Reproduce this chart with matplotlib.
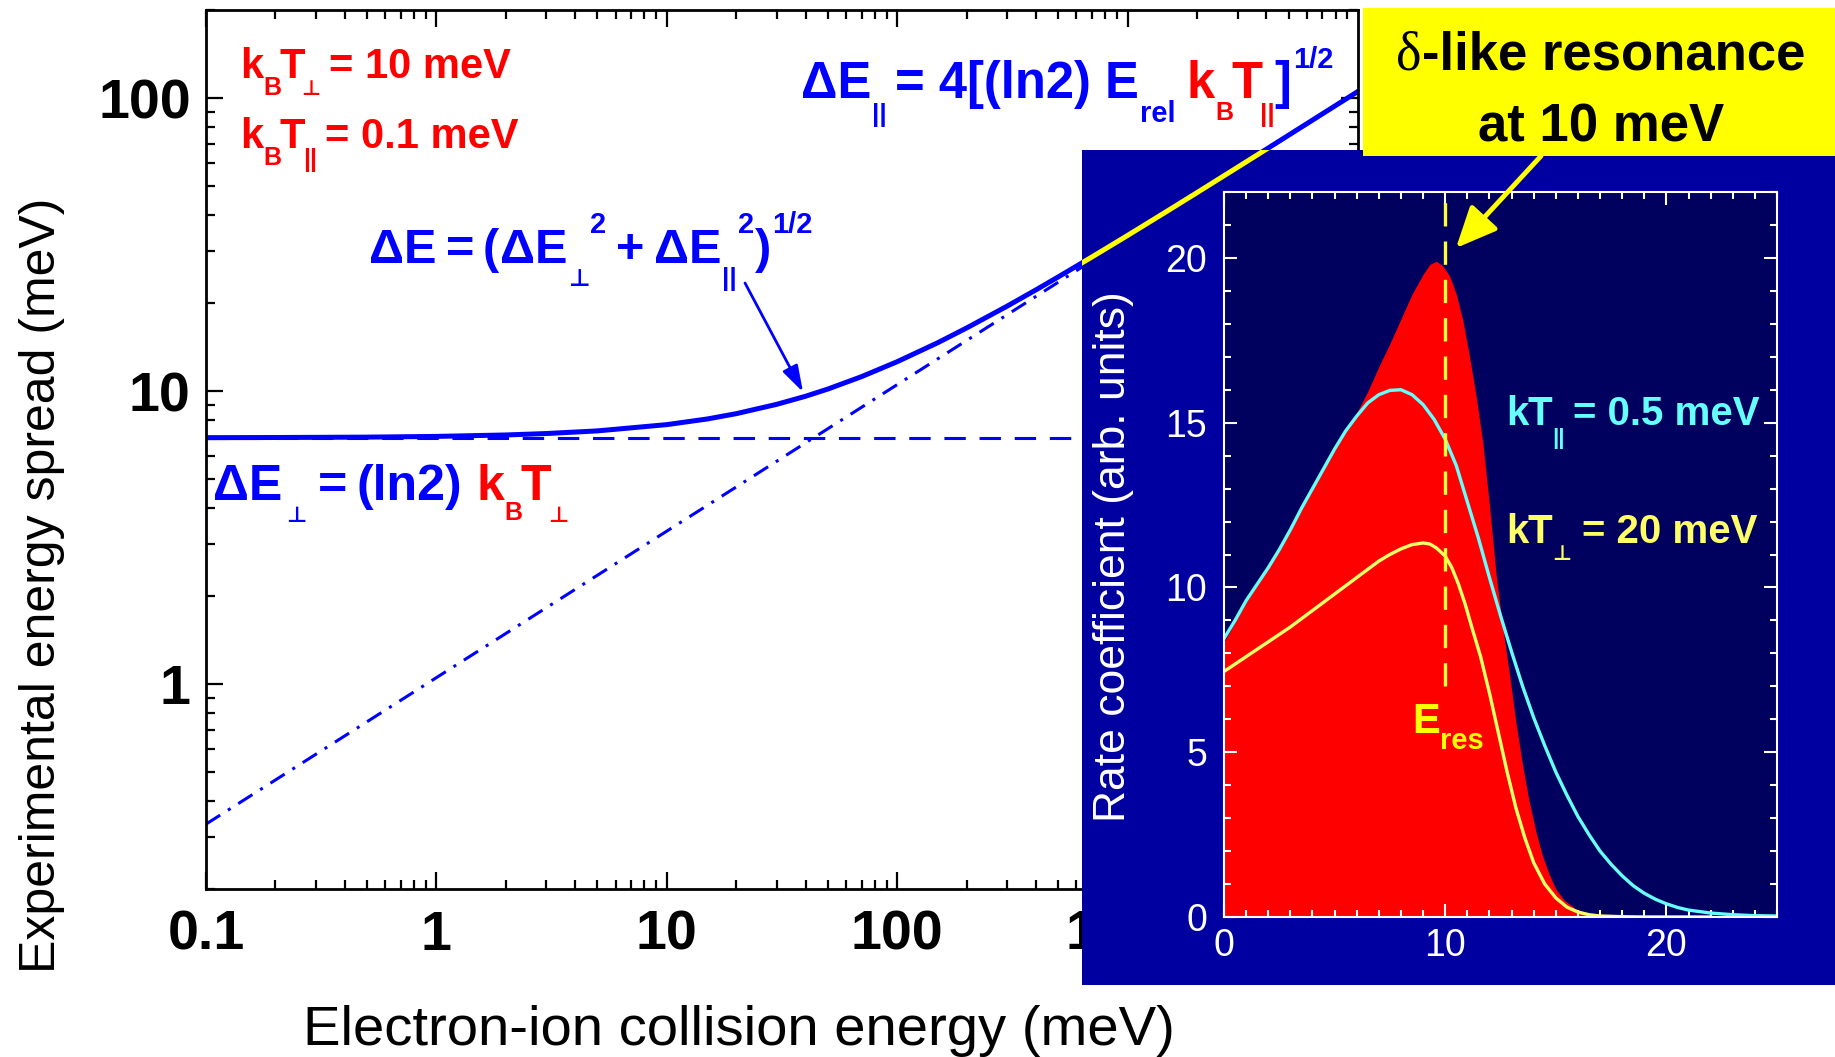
import numpy as np
import matplotlib
matplotlib.use("Agg")
import matplotlib.pyplot as plt
from matplotlib.patches import Rectangle, FancyArrowPatch
from matplotlib.ticker import LogLocator, NullFormatter, MultipleLocator

# ---------------- data ----------------
# main panel: energy spread vs collision energy (meV)
E_tot = [0.1, 0.2, 0.5, 1, 2, 3, 5, 10, 15, 20, 30, 40, 50, 70, 100, 150, 200,
         300, 400, 500, 700, 1000, 1500, 2000, 3000, 4000, 5000, 7000, 10000]
dE_tot = [6.94, 6.95, 6.97, 7.01, 7.09, 7.17, 7.32, 7.69, 8.04, 8.38, 9.02,
          9.61, 10.17, 11.21, 12.61, 14.64, 16.43, 19.51, 22.17, 24.55, 28.71,
          34.01, 41.37, 47.60, 58.10, 66.96, 74.79, 88.38, 105.5]
E_perp = [0.1, 10000]
dE_perp = [6.93, 6.93]
E_par = [0.1, 10000]
dE_par = [0.333, 105.3]
x_ticks_main = [0.1, 1, 10, 100, 1000]
x_ticklabels_main = ["0.1", "1", "10", "100", "1000"]
y_ticks_main = [1, 10, 100]
y_ticklabels_main = ["1", "10", "100"]

# inset: rate coefficient vs energy
x_red = [0, 1, 2, 3, 4, 5, 6, 6.5, 7, 7.5, 8, 8.5, 9, 9.3, 9.6, 9.9, 10.2,
         10.5, 10.8, 11.1, 11.4, 11.7, 12.0, 12.3, 12.6, 12.9, 13.2, 13.5,
         13.8, 14.1, 14.4, 14.7, 15.0, 15.4, 15.9, 16.5, 17.0, 18.0]
y_red = [8.35, 9.55, 10.6, 11.75, 13.0, 14.2, 15.3, 15.95, 16.7, 17.4, 18.15,
         18.9, 19.5, 19.8, 19.9, 19.75, 19.45, 18.9, 18.1, 17.0, 15.8, 14.4,
         12.5, 10.4, 8.8, 7.4, 5.9, 4.6, 3.5, 2.6, 1.85, 1.3, 0.85, 0.5, 0.25,
         0.1, 0.04, 0.0]
x_cyan = [0, 0.5, 1, 1.5, 2, 2.5, 3, 3.5, 4, 4.5, 5, 5.5, 6, 6.5, 7, 7.5, 8,
          8.5, 9, 9.5, 10, 10.5, 11, 11.5, 12, 12.5, 13, 13.5, 14, 14.5, 15,
          15.5, 16, 16.5, 17, 17.5, 18, 18.5, 19, 19.5, 20, 20.5, 21, 22, 23,
          24, 25]
y_cyan = [8.45, 9.0, 9.6, 10.1, 10.6, 11.15, 11.75, 12.4, 13.0, 13.6, 14.2,
          14.75, 15.2, 15.6, 15.85, 15.98, 16.0, 15.85, 15.55, 15.1, 14.5, 13.7,
          12.6, 11.5, 10.3, 9.15, 8.05, 7.0, 6.05, 5.2, 4.4, 3.7, 3.05, 2.5,
          2.0, 1.6, 1.25, 0.95, 0.72, 0.54, 0.4, 0.29, 0.21, 0.12, 0.07, 0.04,
          0.03]
x_yel = [0, 1, 2, 3, 4, 5, 6, 6.5, 7, 7.5, 8, 8.5, 9, 9.3, 9.6, 10.0, 10.3,
         10.6, 10.9, 11.2, 11.6, 12.0, 12.4, 12.8, 13.2, 13.6, 14.0, 14.5,
         15.0, 15.5, 16.0, 16.5, 17.0, 18.0, 19.0, 22.0]
y_yel = [7.45, 7.9, 8.35, 8.8, 9.3, 9.8, 10.3, 10.55, 10.8, 11.0, 11.17, 11.3,
         11.35, 11.32, 11.2, 10.95, 10.6, 10.1, 9.5, 8.8, 7.9, 6.8, 5.6, 4.4,
         3.3, 2.4, 1.65, 1.0, 0.58, 0.3, 0.15, 0.07, 0.03, 0.01, 0.0, 0.0]
E_res = 10
E_res_line_y = [7.0, 22]
x_ticks_in = [0, 10, 20]
y_ticks_in = [0, 5, 10, 15, 20]

# ---------------- figure ----------------
W, H = 1835, 1057
fig = plt.figure(figsize=(W / 100, H / 100), dpi=100)
fig.patch.set_facecolor("white")

SANS = ["Liberation Sans", "DejaVu Sans"]
plt.rcParams["font.family"] = SANS


def fx(x):
    return x / W


def fy(y):
    return 1 - y / H


BLUE = "#0000FF"
RED = "#FF0000"

# main axes
ax = fig.add_axes([fx(206), fy(889), (1358 - 206) / W, (889 - 10) / H], zorder=0)
ax.set_xscale("log")
ax.set_yscale("log")
ax.set_xlim(0.1, 1e4)
ax.set_ylim(0.2, 200)
ax.plot(E_par, dE_par, color=BLUE, lw=2.2, dashes=(5.5, 3, 1, 3))
ax.plot(E_perp, dE_perp, color=BLUE, lw=2.2, dashes=(7, 4.5))
ax.plot(E_tot, dE_tot, color=BLUE, lw=3.6)
ax.set_xticks(x_ticks_main, x_ticklabels_main, fontsize=40, fontweight="bold")
ax.set_yticks(y_ticks_main, y_ticklabels_main, fontsize=40, fontweight="bold")
for a in (ax.xaxis, ax.yaxis):
    a.set_minor_locator(LogLocator(base=10, subs=np.arange(2, 10)))
    a.set_minor_formatter(NullFormatter())
ax.tick_params(which="both", direction="in", top=True, right=True, width=1.6)
ax.tick_params(which="major", length=12)
ax.tick_params(which="minor", length=6.5)
ax.tick_params(axis="x", which="major", pad=15)
ax.tick_params(axis="y", which="major", pad=11)
for s in ax.spines.values():
    s.set_linewidth(2)

# inset background
bg = fig.add_axes([fx(1082), fy(985), (1835 - 1082) / W, (985 - 150) / H], zorder=1)
bg.set_facecolor("#0000A0")
bg.set_xticks([])
bg.set_yticks([])
for s in bg.spines.values():
    s.set_visible(False)

# overlay: curve drawn in yellow over the inset background
ov = fig.add_axes(ax.get_position(), zorder=2)
ov.set_xscale("log")
ov.set_yscale("log")
ov.set_xlim(0.1, 1e4)
ov.set_ylim(0.2, 200)
ov.axis("off")
ov.patch.set_visible(False)
yl, = ov.plot(E_tot, dE_tot, color="#FFFF00", lw=3.6)
clip = Rectangle((fx(1082), fy(985)), (1835 - 1082) / W, (985 - 150) / H,
                 transform=fig.transFigure)
yl.set_clip_path(clip)

# inner inset axes
ai = fig.add_axes([fx(1224), fy(917), (1777 - 1224) / W, (917 - 192) / H], zorder=3)
ai.set_facecolor("#00005E")
ai.fill_between(x_red, y_red, 0, color=RED, lw=0)
ai.plot(x_cyan, y_cyan, color="#66FFFF", lw=2.4)
ai.plot(x_yel, y_yel, color="#FFFF66", lw=2.4)
ai.plot([E_res, E_res], E_res_line_y, color="#FFFF33", lw=2.4, dashes=(7, 4.5))
ai.set_xlim(0, 25)
ai.set_ylim(0, 22)
ai.set_xticks(x_ticks_in, [str(v) for v in x_ticks_in], fontsize=27)
ai.set_yticks(y_ticks_in, [str(v) for v in y_ticks_in], fontsize=27)
ai.xaxis.set_minor_locator(MultipleLocator(1))
ai.yaxis.set_minor_locator(MultipleLocator(1))
ai.tick_params(which="both", direction="in", top=True, right=True, width=1.5,
               color="white", labelcolor="white")
ai.tick_params(which="major", length=9.5)
ai.tick_params(which="minor", length=5)
ai.tick_params(axis="x", which="major", pad=8)
ai.tick_params(axis="y", which="major", pad=12)
for s in ai.spines.values():
    s.set_color("white")
    s.set_linewidth(1.5)

# yellow box
fig.add_artist(Rectangle((fx(1363), fy(156)), (1835 - 1363) / W, (156 - 8) / H,
                         transform=fig.transFigure, facecolor="#FFFF00",
                         edgecolor="none", zorder=5))

# arrows
fig.add_artist(FancyArrowPatch((fx(745), fy(283)), (fx(803), fy(392)),
                               transform=fig.transFigure,
                               arrowstyle="-|>,head_length=0.8,head_width=0.25",
                               mutation_scale=20, color=BLUE, lw=2, zorder=10,
                               shrinkA=0, shrinkB=0))
fig.add_artist(FancyArrowPatch((fx(1541), fy(156)), (fx(1456), fy(248)),
                               transform=fig.transFigure,
                               arrowstyle="-|>,head_length=1.0,head_width=0.45",
                               mutation_scale=25, color="#FFFF00", lw=3.5,
                               zorder=10, shrinkA=0, shrinkB=0))

fig.canvas.draw()
renderer = fig.canvas.get_renderer()


def rich(x, y, pieces, family=SANS, weight="bold", zorder=10):
    cx = x
    for p in pieces:
        s, color, size = p[0], p[1], p[2]
        dy = p[3] if len(p) > 3 else 0
        gap = p[4] if len(p) > 4 else 0
        fam = p[5] if len(p) > 5 else family
        wt = p[6] if len(p) > 6 else weight
        cx += gap
        t = fig.text(cx / W, 1 - (y + dy) / H, s, color=color, fontsize=size,
                     fontweight=wt, family=fam, va="baseline", ha="left",
                     zorder=zorder)
        bb = t.get_window_extent(renderer=renderer)
        cx = bb.x1
    return cx


PERP = "\u22a5"
PAR = "||"

# red temperature labels (top left)
rich(240, 78, [("k", RED, 30), ("B", RED, 18, 17, 0), ("T", RED, 30, 0, -2),
               (PERP, RED, 15, 17, -3), ("= 10 meV", RED, 30, 0, 8)])
rich(240, 148, [("k", RED, 30), ("B", RED, 18, 17, 0), ("T", RED, 30, 0, -2),
                (PAR, RED, 18, 19, -2), ("= 0.1 meV", RED, 30, 0, 8)])

# parallel spread formula
rich(801, 98, [("\u0394E", BLUE, 36.5), (PAR, BLUE, 19, 24, 1),
               ("= 4[(ln2) E", BLUE, 36.5, 0, 8), ("rel", BLUE, 21, 24, 1),
               ("k", RED, 36.5, 0, 11), ("B", RED, 18, 22, 0),
               ("T", RED, 36.5, 0, -2), (PAR, RED, 19, 24, -2),
               ("]", BLUE, 36.5, 0, 0), ("1/2", BLUE, 21, -30, 2)])

# total spread formula
rich(369, 263, [("\u0394E", BLUE, 35), ("=", BLUE, 35, 0, 9),
                ("(", BLUE, 35, 0, 9), ("\u0394E", BLUE, 35, 0, 1),
                (PERP, BLUE, 17, 23, 1), ("2", BLUE, 21, -30, 0),
                ("+", BLUE, 35, 0, 10), ("\u0394E", BLUE, 35, 0, 9),
                (PAR, BLUE, 19, 23, 1), ("2", BLUE, 21, -30, 1),
                (")", BLUE, 35, 0, 1), ("1/2", BLUE, 21, -30, 1)])

# perpendicular spread formula
rich(213, 500, [("\u0394E", BLUE, 36), (PERP, BLUE, 16, 22, 4),
                ("=", BLUE, 36, 0, 11), ("(ln2)", BLUE, 36, 0, 10),
                ("k", RED, 36, 0, 14), ("B", RED, 18, 20, 0),
                ("T", RED, 36, 0, -2), (PERP, RED, 16, 22, -3)])

# inset annotations
rich(1506, 425, [("k", "#66FFFF", 29), ("T", "#66FFFF", 29, 0, -1),
                 (PAR, "#66FFFF", 16, 19, 0), ("= 0.5 meV", "#66FFFF", 29, 0, 9)])
rich(1506, 543, [("k", "#FFFF66", 29), ("T", "#FFFF66", 29, 0, -1),
                 (PERP, "#FFFF66", 15, 17, 0), ("= 20 meV", "#FFFF66", 29, 0, 11)])
rich(1412, 733, [("E", "#FFFF00", 30), ("res", "#FFFF00", 21, 16, 0)])

# yellow box text
rich(1396, 70, [("\u03b4", "black", 39, 0, 0, ["Liberation Serif", "DejaVu Serif"], "normal"),
                ("-like resonance", "black", 38, 0, 0)])
fig.text(fx(1601), fy(142), "at 10 meV", fontsize=38, fontweight="bold",
         color="black", ha="center", va="baseline", zorder=10)

# axis labels
fig.text(fx(739), fy(1045), "Electron-ion collision energy (meV)", fontsize=40.5,
         ha="center", va="baseline", zorder=10)
fig.text(fx(42), fy(585), "Experimental energy spread (meV)", fontsize=36,
         rotation=90, ha="center", va="center", zorder=10)
fig.text(fx(1114), fy(557), "Rate coefficient (arb. units)", fontsize=32,
         rotation=90, ha="center", va="center", color="white", zorder=10)

fig.savefig("out.png", dpi=100)
